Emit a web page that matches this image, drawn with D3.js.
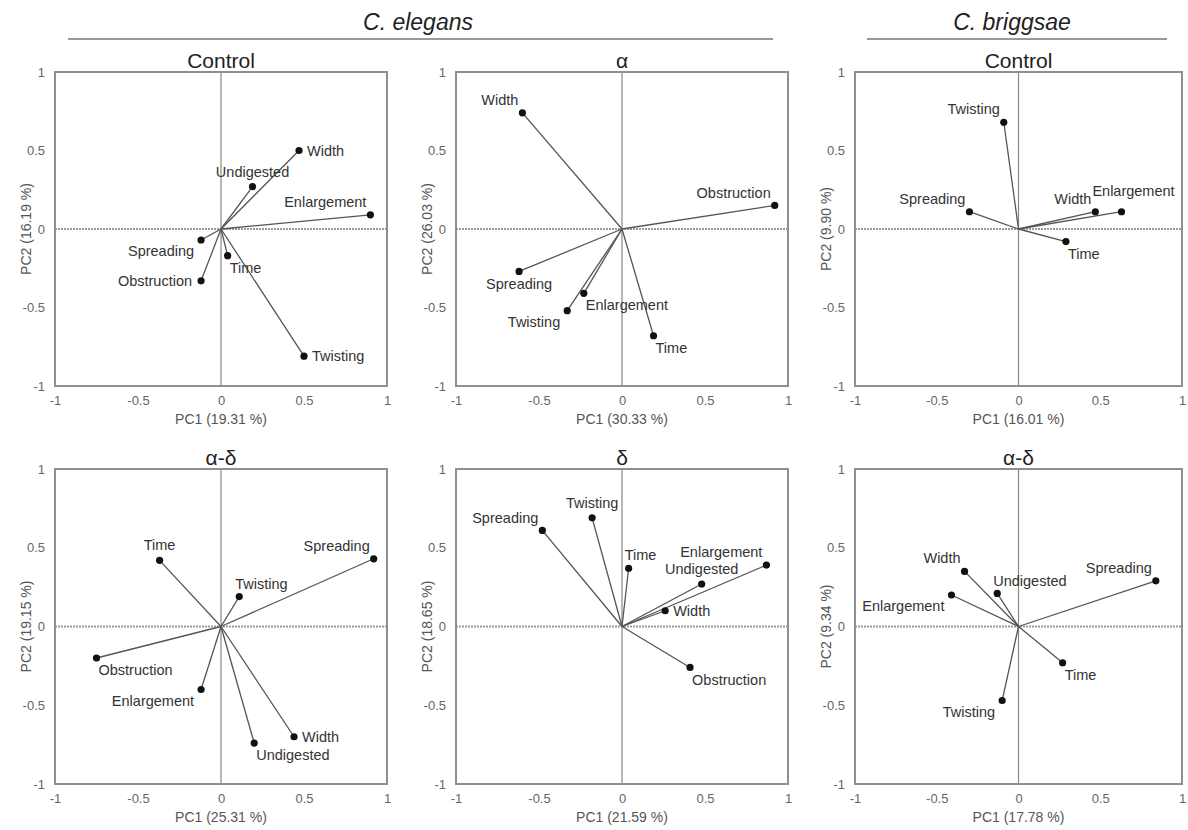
<!DOCTYPE html>
<html>
<head>
<meta charset="utf-8">
<script src="https://cdnjs.cloudflare.com/ajax/libs/d3/7.8.5/d3.min.js"></script>
<style>
    body { margin: 0; background: #fff; }
    svg text { font-family: "Liberation Sans", Arial, sans-serif; }
</style>
</head>
<body>
<svg id="chart" width="1188" height="830"></svg>
<script>
// ---- data ----
var tickValues = [-1, -0.5, 0, 0.5, 1];
var tickLabels = ["-1", "-0.5", "0", "0.5", "1"];

var speciesNames = ["C. elegans", "C. briggsae"];
var panelTitles = ["Control", "\u03b1", "Control", "\u03b1-\u03b4", "\u03b4", "\u03b1-\u03b4"];
var pc1Titles = ["PC1 (19.31 %)", "PC1 (30.33 %)", "PC1 (16.01 %)", "PC1 (25.31 %)", "PC1 (21.59 %)", "PC1 (17.78 %)"];
var pc2Titles = ["PC2 (16.19 %)", "PC2 (26.03 %)", "PC2 (9.90 %)", "PC2 (19.15 %)", "PC2 (18.65 %)", "PC2 (9.34 %)"];

// C. elegans, control
var elegansCtrlNames = ["Width", "Undigested", "Enlargement", "Spreading", "Obstruction", "Time", "Twisting"];
var elegansCtrlPC1 = [0.47, 0.19, 0.90, -0.12, -0.12, 0.04, 0.50];
var elegansCtrlPC2 = [0.50, 0.27, 0.09, -0.07, -0.33, -0.17, -0.81];
var elegansCtrlSide = ["r", "a", "al", "bl", "l", "br", "r"];

// C. elegans, alpha
var elegansAlphaNames = ["Width", "Obstruction", "Spreading", "Enlargement", "Twisting", "Time"];
var elegansAlphaPC1 = [-0.60, 0.92, -0.62, -0.23, -0.33, 0.19];
var elegansAlphaPC2 = [0.74, 0.15, -0.27, -0.41, -0.52, -0.68];
var elegansAlphaSide = ["al", "al", "b", "br", "bl", "br"];

// C. briggsae, control
var briggsaeCtrlNames = ["Twisting", "Spreading", "Width", "Enlargement", "Time"];
var briggsaeCtrlPC1 = [-0.09, -0.30, 0.47, 0.63, 0.29];
var briggsaeCtrlPC2 = [0.68, 0.11, 0.11, 0.11, -0.08];
var briggsaeCtrlSide = ["al", "al", "al", "ah", "br"];

// C. elegans, alpha-delta
var elegansADNames = ["Time", "Spreading", "Twisting", "Obstruction", "Enlargement", "Width", "Undigested"];
var elegansADPC1 = [-0.37, 0.92, 0.11, -0.75, -0.12, 0.44, 0.20];
var elegansADPC2 = [0.42, 0.43, 0.19, -0.20, -0.40, -0.70, -0.74];
var elegansADSide = ["a", "al", "ar", "br", "bl", "r", "br"];

// C. elegans, delta
var elegansDeltaNames = ["Spreading", "Twisting", "Time", "Enlargement", "Undigested", "Width", "Obstruction"];
var elegansDeltaPC1 = [-0.48, -0.18, 0.04, 0.87, 0.48, 0.26, 0.41];
var elegansDeltaPC2 = [0.61, 0.69, 0.37, 0.39, 0.27, 0.10, -0.26];
var elegansDeltaSide = ["al", "a", "ar", "al", "a", "r", "br"];

// C. briggsae, alpha-delta
var briggsaeADNames = ["Width", "Undigested", "Enlargement", "Spreading", "Time", "Twisting"];
var briggsaeADPC1 = [-0.33, -0.13, -0.41, 0.84, 0.27, -0.10];
var briggsaeADPC2 = [0.35, 0.21, 0.20, 0.29, -0.23, -0.47];
var briggsaeADSide = ["al", "ar", "bl", "al", "br", "bl"];

// ---- layout ----
var W = 1188, H = 830;
var colX = [55, 456, 855];
var colW = [332, 332, 327];
var rowY = [72, 469];
var rowH = [314, 315];

// label side -> [anchor, dx, dy]
var sideOffsets = {
    r: ["start", 8, 0],
    l: ["end", -9, 0],
    a: ["middle", 0, -15],
    ah: ["middle", 12, -21],
    b: ["middle", 0, 13],
    al: ["end", -4, -13],
    ar: ["start", -4, -13],
    bl: ["end", -7, 11],
    br: ["start", 2, 12]
};

function zipPoints(names, pc1, pc2, side) {
    var pts = [];
    for (var i = 0; i < names.length; i++) {
        pts.push({ name: names[i], x: pc1[i], y: pc2[i], side: side[i] });
    }
    return pts;
}

var panels = [
    zipPoints(elegansCtrlNames, elegansCtrlPC1, elegansCtrlPC2, elegansCtrlSide),
    zipPoints(elegansAlphaNames, elegansAlphaPC1, elegansAlphaPC2, elegansAlphaSide),
    zipPoints(briggsaeCtrlNames, briggsaeCtrlPC1, briggsaeCtrlPC2, briggsaeCtrlSide),
    zipPoints(elegansADNames, elegansADPC1, elegansADPC2, elegansADSide),
    zipPoints(elegansDeltaNames, elegansDeltaPC1, elegansDeltaPC2, elegansDeltaSide),
    zipPoints(briggsaeADNames, briggsaeADPC1, briggsaeADPC2, briggsaeADSide)
];

var svg = d3.select("#chart");
svg.append("rect").attr("width", W).attr("height", H).attr("fill", "#fff");

// species headers with rule underneath
var headers = [
    { name: speciesNames[0], cx: 418, x1: 68, x2: 773 },
    { name: speciesNames[1], cx: 1012, x1: 867, x2: 1167 }
];
headers.forEach(function(h) {
    svg.append("text")
        .attr("x", h.cx).attr("y", 30)
        .attr("text-anchor", "middle")
        .attr("font-size", "23px")
        .attr("font-style", "italic")
        .attr("fill", "#222")
        .text(h.name);
    svg.append("line")
        .attr("x1", h.x1).attr("x2", h.x2)
        .attr("y1", 39).attr("y2", 39)
        .attr("stroke", "#999").attr("stroke-width", 2);
});

function drawPanel(i) {
    var col = i % 3, row = Math.floor(i / 3);
    var w = colW[col], h = rowH[row];
    var g = svg.append("g").attr("transform", "translate(" + colX[col] + "," + rowY[row] + ")");

    var x = d3.scaleLinear().domain([-1, 1]).range([0, w]);
    var y = d3.scaleLinear().domain([-1, 1]).range([h, 0]);

    // zero lines
    g.append("line")
        .attr("x1", 0).attr("x2", w).attr("y1", y(0)).attr("y2", y(0))
        .attr("stroke", "#999").attr("stroke-width", 2).attr("stroke-dasharray", "2,1");
    g.append("line")
        .attr("x1", x(0)).attr("x2", x(0)).attr("y1", 0).attr("y2", h)
        .attr("stroke", "#888").attr("stroke-width", 1.2);

    // loading vectors
    var pts = panels[i];
    g.selectAll("line.vec").data(pts).enter().append("line")
        .attr("class", "vec")
        .attr("x1", x(0)).attr("y1", y(0))
        .attr("x2", function(d) { return x(d.x); })
        .attr("y2", function(d) { return y(d.y); })
        .attr("stroke", "#555").attr("stroke-width", 1.3);

    g.selectAll("circle").data(pts).enter().append("circle")
        .attr("cx", function(d) { return x(d.x); })
        .attr("cy", function(d) { return y(d.y); })
        .attr("r", 3.6)
        .attr("fill", "#111");

    g.selectAll("text.lbl").data(pts).enter().append("text")
        .attr("class", "lbl")
        .attr("x", function(d) { return x(d.x) + sideOffsets[d.side][1]; })
        .attr("y", function(d) { return y(d.y) + sideOffsets[d.side][2]; })
        .attr("dy", "0.35em")
        .attr("text-anchor", function(d) { return sideOffsets[d.side][0]; })
        .attr("font-size", "14.5px")
        .attr("fill", "#333")
        .text(function(d) { return d.name; });

    // frame
    g.append("rect")
        .attr("width", w).attr("height", h)
        .attr("fill", "none").attr("stroke", "#8f8f8f").attr("stroke-width", 2);

    // axes, labels only
    var fmt = function(v) { return tickLabels[tickValues.indexOf(v)]; };
    var xa = g.append("g").attr("transform", "translate(0," + h + ")")
        .call(d3.axisBottom(x).tickValues(tickValues).tickFormat(fmt).tickSize(0).tickPadding(10));
    var ya = g.append("g")
        .call(d3.axisLeft(y).tickValues(tickValues).tickFormat(fmt).tickSize(0).tickPadding(10));
    [xa, ya].forEach(function(a) {
        a.select(".domain").remove();
        a.selectAll("text")
            .attr("font-size", "13px")
            .attr("font-family", "\"Liberation Sans\", Arial, sans-serif")
            .attr("fill", "#666");
    });

    // titles
    g.append("text")
        .attr("x", w / 2).attr("y", -4)
        .attr("text-anchor", "middle")
        .attr("font-size", "21px")
        .attr("fill", "#222")
        .text(panelTitles[i]);

    g.append("text")
        .attr("x", w / 2).attr("y", h + 38)
        .attr("text-anchor", "middle")
        .attr("font-size", "14px")
        .attr("fill", "#555")
        .text(pc1Titles[i]);

    g.append("text")
        .attr("transform", "translate(-29," + (h / 2) + ") rotate(-90)")
        .attr("dy", "0.35em")
        .attr("text-anchor", "middle")
        .attr("font-size", "14px")
        .attr("fill", "#555")
        .text(pc2Titles[i]);
}

for (var p = 0; p < panels.length; p++) {
    drawPanel(p);
}
</script>
</body>
</html>
